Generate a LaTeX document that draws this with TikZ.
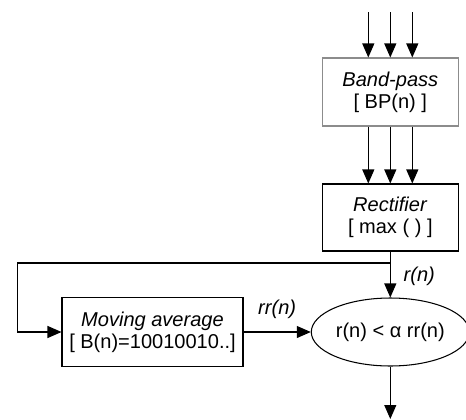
\documentclass[tikz,border=0pt]{standalone}
\usepackage{fontspec}
\setmainfont{Liberation Sans}
\usetikzlibrary{arrows.meta,shapes.geometric}

\begin{document}
\begin{tikzpicture}[x = 0.02cm, y = -0.02cm, line width = 0.6pt,
	font = \fontsize{11.4}{12.5}\selectfont,
	arr/.style = {-{Triangle[length=0.28cm, width=0.24cm]}},
	blockbox/.style = {draw, rectangle, align = center, inner sep = 0pt},
	lbl/.style = {font = \fontsize{11.4}{12.5}\selectfont\itshape}]
	\useasboundingbox (0,0) rectangle (466,419);

	\node[blockbox, draw = black!45, minimum width = 2.72cm, minimum height = 1.36cm] (BP) at (390.3,92) {\textit{Band-pass}\\{[} BP(n) {]}};
	\node[blockbox, minimum width = 2.72cm, minimum height = 1.34cm] (REC) at (390.3,217.5) {\textit{Rectifier}\\{[} max ( ) {]}};
	\node[blockbox, minimum width = 3.62cm, minimum height = 1.38cm] (MA) at (152.5,332) {\textit{Moving average}\\{[} B(n)=10010010..{]}};
	\node[draw, ellipse, inner sep = 0pt, minimum width = 3.16cm, minimum height = 1.36cm] (CMP) at (390.3,332) {r(n) < α rr(n)};

	\coordinate (IN) at (390.3,12);
	\coordinate (SPLIT) at (390.3,263);
	\coordinate (OUT) at (390.3,419);

	\foreach \d in {-22,0,22} {
		\draw[arr] ([xshift = \d*0.02cm]IN) -- ([xshift = \d*0.02cm]BP.north);
		\draw[arr] ([xshift = \d*0.02cm]BP.south) -- ([xshift = \d*0.02cm]REC.north);
	}
	\draw (REC.south) -- (SPLIT);
	\draw[arr] (SPLIT) -- (CMP.north) node[lbl, midway, right = 4pt, yshift = 2pt]{r(n)};
	\draw[arr] (SPLIT) -- ++(-373,0) |- (MA.west);
	\draw[arr] (MA.east) -- (CMP.west) node[lbl, midway, above = 4pt]{rr(n)};
	\draw[arr] (CMP.south) -- (OUT);
\end{tikzpicture}
\end{document}
